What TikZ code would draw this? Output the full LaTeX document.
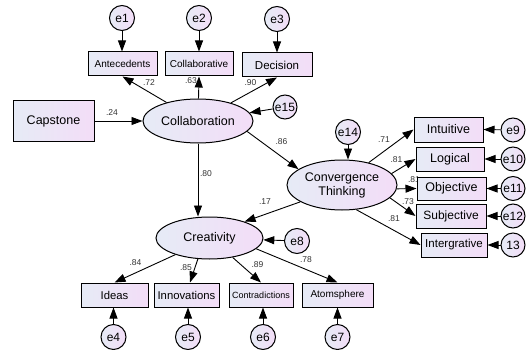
\documentclass[tikz,border=0pt]{standalone}
\usepackage{fontspec}
\setmainfont{Liberation Sans}
\usetikzlibrary{shapes.geometric,arrows.meta}
\definecolor{fillL}{RGB}{230,235,246}
\definecolor{fillR}{RGB}{243,221,247}
\definecolor{lbl}{RGB}{51,51,51}
\tikzset{
  fz/.style={font=\fontsize{#1}{#1}\selectfont},
  obsbox/.style={draw, line width=1pt, left color=fillL, right color=fillR, inner sep=0pt, minimum height=24pt},
  latent/.style={ellipse, draw, line width=1pt, left color=fillL, right color=fillR, inner sep=0pt, align=center, fz=12.5},
  err/.style={circle, draw, line width=1pt, left color=fillL, right color=fillR, inner sep=0pt, minimum size=25pt, fz=12},
  pth/.style={line width=0.9pt, -{Triangle[length=11pt,width=8pt]}},
  coef/.style={fz=8.5, text=lbl, inner sep=0pt},
}
\begin{document}
\begin{tikzpicture}[x=1pt,y=-1pt]
\useasboundingbox (0,0) rectangle (532,350);
% label partly hidden behind the Objective box
\node[coef] (l81b) at (414,180) {.81};
% latent variables
\node[latent, minimum width=110pt, minimum height=44pt] (coll) at (198,121) {Collaboration};
\node[latent, minimum width=110pt, minimum height=50pt, font=\fontsize{12.5}{14}\selectfont] (conv) at (342,185) {Convergence\\Thinking};
\node[latent, minimum width=107pt, minimum height=42pt] (crea) at (209.5,238) {Creativity};
% observed boxes
\node[obsbox, minimum width=69pt, fz=10] (ant) at (122.5,64) {Antecedents};
\node[obsbox, minimum width=68pt, fz=10] (collab) at (199,64) {Collaborative};
\node[obsbox, minimum width=70pt, fz=11.5] (dec) at (277,65) {Decision};
\node[obsbox, minimum width=81pt, minimum height=40pt, fz=12.5] (cap) at (53.5,121) {Capstone};
\node[obsbox, minimum width=69pt, minimum height=25pt, fz=12.5] (int) at (448.5,129.5) {Intuitive};
\node[obsbox, minimum width=68pt, fz=12.5] (log) at (450,159) {Logical};
\node[obsbox, minimum width=69pt, minimum height=23pt, fz=12.5] (obj) at (451.5,188.5) {Objective};
\node[obsbox, minimum width=70pt, fz=12] (sub) at (451,216) {Subjective};
\node[obsbox, minimum width=66pt, fz=11.5] (intg) at (454,245) {Intergrative};
\node[obsbox, minimum width=67pt, fz=11.3] (ideas) at (114.5,295) {Ideas};
\node[obsbox, minimum width=65pt, fz=11.3] (innov) at (186.5,295) {Innovations};
\node[obsbox, minimum width=64pt, fz=9] (contr) at (261,295) {Contradictions};
\node[obsbox, minimum width=71pt, fz=10] (atom) at (337.5,295) {Atomsphere};
% error terms
\node[err] (e1) at (122,18) {e1};
\node[err] (e2) at (199,18) {e2};
\node[err] (e3) at (277,19) {e3};
\node[err, minimum size=24pt] (e15) at (285,107) {e15};
\node[err] (e14) at (348,132) {e14};
\node[err, minimum size=24pt] (e9) at (513,130) {e9};
\node[err, minimum size=24pt] (e10) at (513,159) {e10};
\node[err, minimum size=24pt] (e11) at (513,188.5) {e11};
\node[err, minimum size=24pt] (e12) at (513,216) {e12};
\node[err, minimum size=24pt] (e13) at (513,245) {13};
\node[err] (e8) at (297,241) {e8};
\node[err] (e4) at (113.5,337) {e4};
\node[err] (e5) at (188,337) {e5};
\node[err] (e6) at (263,337) {e6};
\node[err] (e7) at (337.5,337) {e7};
% paths
\draw[pth] (e1) -- (e1 |- ant.north);
\draw[pth] (e2) -- (e2 |- collab.north);
\draw[pth] (e3) -- (e3 |- dec.north);
\draw[pth] (coll) -- (ant.south);
\draw[pth] (coll) -- (collab.south);
\draw[pth] (coll) -- (dec.south);
\draw[pth] (e15) -- (coll);
\draw[pth] (cap) -- (coll);
\draw[pth] (coll.south) -- (coll.south |- crea.north);
\draw[pth] (coll.-12) -- (conv.160);
\draw[pth] (e14) -- (e14 |- conv.north);
\draw[pth] (conv.40) -- (int.west);
\draw[pth] (conv.13) -- (log.west);
\draw[pth] (conv.-4) -- (obj.west);
\draw[pth] (conv.-15) -- (sub.west);
\draw[pth] (conv.-60) -- (intg.west);
\draw[pth] (e9) -- (int.east);
\draw[pth] (e10) -- (log.east);
\draw[pth] (e11) -- (obj.east);
\draw[pth] (e12) -- (sub.east);
\draw[pth] (e13) -- (intg.east);
\draw[pth] (conv.202) -- (crea.25);
\draw[pth] (e8) -- (crea);
\draw[pth] (crea.206) -- (ideas.north);
\draw[pth] (crea.241) -- ([xshift=3.5pt]innov.north);
\draw[pth] (crea.-40) -- (contr.north);
\draw[pth] (crea.-13) -- (atom.north);
\draw[pth] (e4) -- (e4 |- ideas.south);
\draw[pth] (e5) -- (e5 |- innov.south);
\draw[pth] (e6) -- (e6 |- contr.south);
\draw[pth] (e7) -- (e7 |- atom.south);
% coefficients
\node[coef] (l72) at (149,83) {.72};
\node[coef] (l63) at (191,81) {.63};
\node[coef] (l90) at (250.5,83) {.90};
\node[coef] (l24) at (112,113) {.24};
\node[coef] (l80) at (206,174) {.80};
\node[coef] (l86) at (281.5,142) {.86};
\node[coef] (l71) at (384,140) {.71};
\node[coef] (l81a) at (396.5,160) {.81};
\node[coef] (l73) at (408,202) {.73};
\node[coef] (l81c) at (394,219) {.81};
\node[coef] (l17) at (265,202) {.17};
\node[coef] (l84) at (135.5,263) {.84};
\node[coef] (l85) at (186,268) {.85};
\node[coef] (l89) at (257.5,265) {.89};
\node[coef] (l78) at (306,260) {.78};
\end{tikzpicture}
\end{document}
